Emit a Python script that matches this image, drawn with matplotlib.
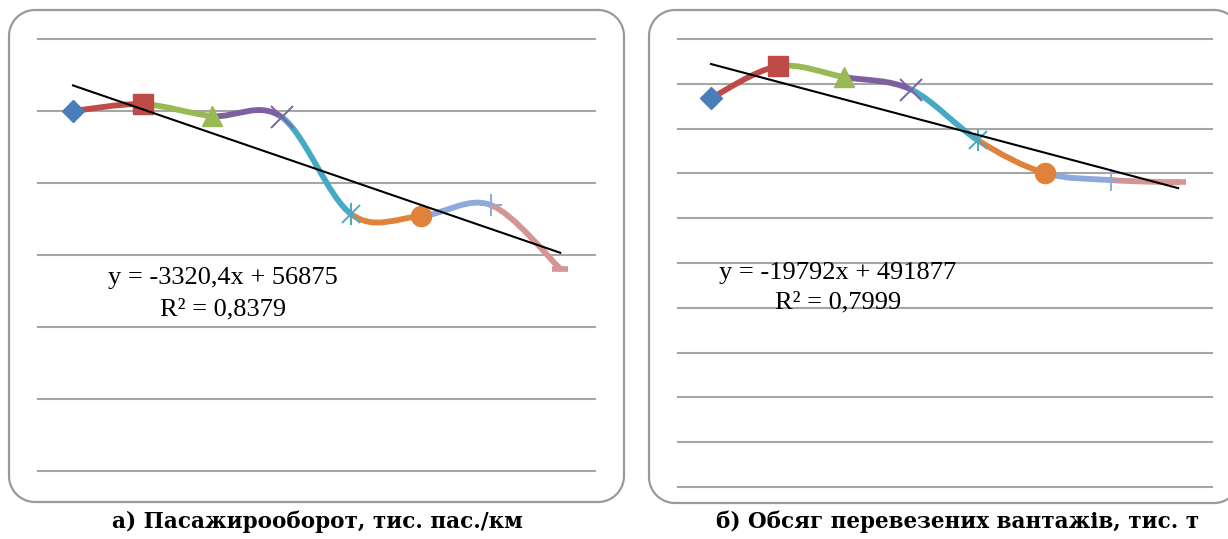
import numpy as np
import matplotlib
matplotlib.use("Agg")
import matplotlib.pyplot as plt
from matplotlib.path import Path
from matplotlib.patches import PathPatch

# ---------------- data ----------------
years = [1, 2, 3, 4, 5, 6, 7, 8]
passenger = [50000, 50950, 49300, 49150, 35650, 35400, 36950, 28100]
cargo = [434000, 469500, 457500, 443500, 387000, 350500, 342500, 340000]

trend_a = (-3320.4, 56875)
trend_b = (-19792, 491877)
eq_a = ["y = -3320,4x + 56875", "R² = 0,8379"]
eq_b = ["y = -19792x + 491877", "R² = 0,7999"]
caption_a = "а) Пасажирооборот, тис. пас./км"
caption_b = "б) Обсяг перевезених вантажів, тис. т"
ylim_a = (0, 60000)
ylim_b = (0, 500000)
yticks_a = [0, 10000, 20000, 30000, 40000, 50000, 60000]
yticks_b = list(range(0, 500001, 50000))

colors = ["#4A7EBB", "#BE4B48", "#98B954", "#7D60A0", "#46AAC5", "#E0823A", "#8EA9DB", "#D49593"]
markers = ["D", "s", "^", "x", "star", "o", "+", "_"]

W, H = 1228, 539
fig = plt.figure(figsize=(W / 100, H / 100), dpi=100)


def frac(x0, y0, x1, y1):
    return [x0 / W, 1 - y1 / H, (x1 - x0) / W, (y1 - y0) / H]


def rounded_rect(x0, y0, x1, y1, r):
    pts = []
    corners = [((x1 - r, y0 + r), -90, 0),
               ((x1 - r, y1 - r), 0, 90),
               ((x0 + r, y1 - r), 90, 180),
               ((x0 + r, y0 + r), 180, 270)]
    for (cx, cy), a0, a1 in corners:
        a = np.radians(np.linspace(a0, a1, 20))
        pts.extend(zip(cx + r * np.cos(a), cy + r * np.sin(a)))
    pts.append(pts[0])
    return np.array(pts)


# pixel overlay for rounded frames
ov = fig.add_axes([0, 0, 1, 1])
ov.set_xlim(0, W)
ov.set_ylim(H, 0)
ov.axis("off")
ov.patch.set_alpha(0)
for (x0, y0, x1, y1) in [(9, 10, 624, 502), (649, 10, 1240, 503)]:
    rr = rounded_rect(x0, y0, x1, y1, 26)
    ov.plot(rr[:, 0], rr[:, 1], color="#9a9a9a", lw=1.6)


def smooth_segments(xs, ys):
    pts = np.column_stack([xs, ys]).astype(float)
    n = len(pts)
    segs = []
    for i in range(n - 1):
        p0 = pts[max(i - 1, 0)]
        p1 = pts[i]
        p2 = pts[i + 1]
        p3 = pts[min(i + 2, n - 1)]
        c1 = p1 + (p2 - p0) / 6.0
        c2 = p2 - (p3 - p1) / 6.0
        segs.append([p1, c1, c2, p2])
    return segs


def draw_panel(ax, values, ylim, yticks, trend, eq):
    ax.set_xlim(0.5, 8.5)
    ax.set_ylim(*ylim)
    for t in yticks:
        ax.axhline(t, color="#a6a6a6", lw=1.5, zorder=0, clip_on=False)
    for s in ax.spines.values():
        s.set_visible(False)
    ax.set_xticks([])
    ax.set_yticks([])
    ax.patch.set_alpha(0)
    segs = smooth_segments(years, values)
    for i, seg in enumerate(segs):
        path = Path(seg, [Path.MOVETO, Path.CURVE4, Path.CURVE4, Path.CURVE4])
        ax.add_patch(PathPatch(path, facecolor="none", edgecolor=colors[i + 1],
                               lw=4.2, capstyle="round", zorder=2, clip_on=False))
    for i, (x, y) in enumerate(zip(years, values)):
        m = markers[i]
        c = colors[i]
        if m == "star":
            ax.plot([x], [y], marker="x", ms=13, mew=1.4, color=c, zorder=3)
            ax.plot([x], [y], marker="|", ms=16, mew=1.4, color=c, zorder=3)
        elif m in ("x", "+"):
            ax.plot([x], [y], marker=m, ms=16, mew=1.4, color=c, zorder=3)
        elif m == "_":
            ax.plot([x], [y], marker=m, ms=11, mew=4, color=c, zorder=3)
        elif m == "D":
            ax.plot([x], [y], marker=m, ms=11.5, color=c, mec=c, zorder=3)
        else:
            ax.plot([x], [y], marker=m, ms=14.5, color=c, mec=c, zorder=3)
    tx = np.array([years[0], years[-1]])
    ax.plot(tx, trend[0] * tx + trend[1], color="black", lw=1.5, zorder=4)


ax_a = fig.add_axes(frac(38.2, 39, 595, 471))
draw_panel(ax_a, passenger, ylim_a, yticks_a, trend_a, eq_a)
ax_b = fig.add_axes(frac(677.6, 39, 1211.5, 487))
draw_panel(ax_b, cargo, ylim_b, yticks_b, trend_b, eq_b)

serif = ["Liberation Serif", "DejaVu Serif"]
for (cx, cy1, cy2), eq in [((223, 278, 309), eq_a), ((838, 273, 302), eq_b)]:
    fig.text(cx / W, 1 - cy1 / H, eq[0], ha="center", va="center", fontsize=19, family=serif)
    fig.text(cx / W, 1 - cy2 / H, eq[1], ha="center", va="center", fontsize=19, family=serif)

fig.text(317 / W, 1 - 522 / H, caption_a, ha="center", va="center", fontsize=15.5,
         family=["DejaVu Serif"], fontweight="bold")
fig.text(958 / W, 1 - 522 / H, caption_b, ha="center", va="center", fontsize=15.5,
         family=["DejaVu Serif"], fontweight="bold")

fig.savefig("out.png", dpi=100)
